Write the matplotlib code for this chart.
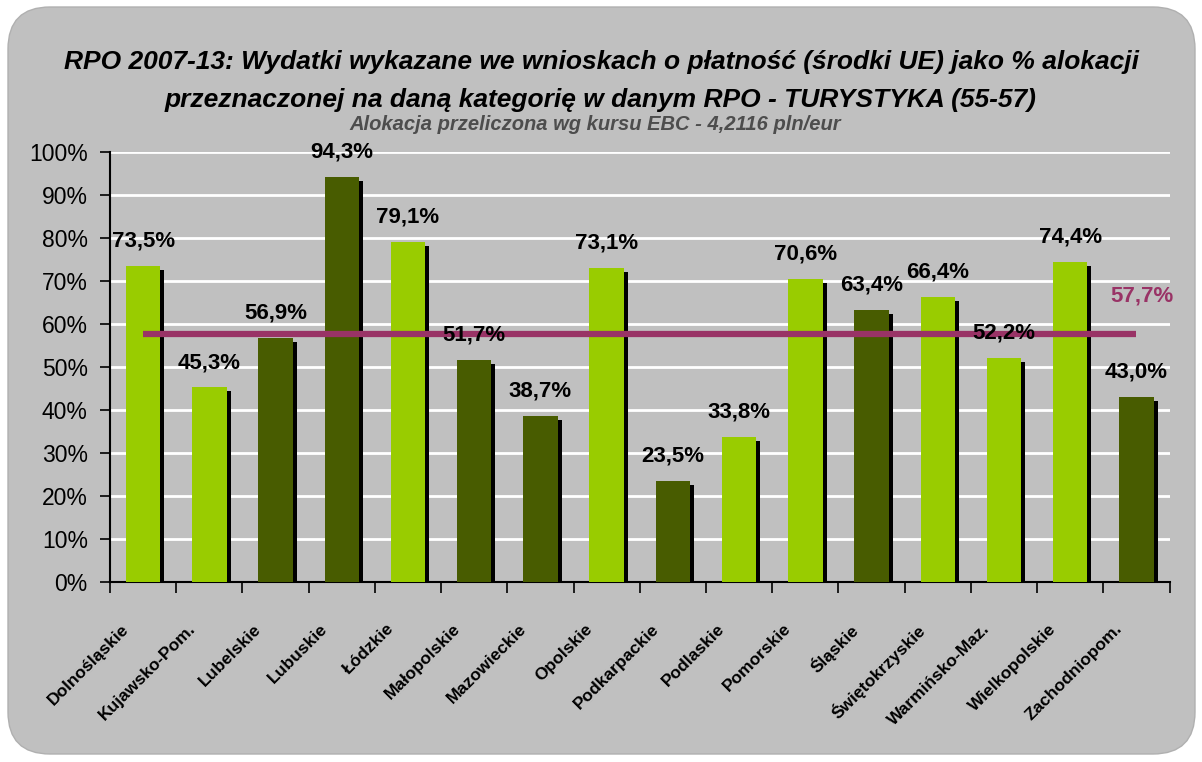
import numpy as np
import matplotlib
matplotlib.use('Agg')
import matplotlib.pyplot as plt
from matplotlib.patches import FancyBboxPatch
from matplotlib.transforms import ScaledTranslation

regions = ['Dolnośląskie', 'Kujawsko-Pom.', 'Lubelskie', 'Lubuskie', 'Łódzkie',
           'Małopolskie', 'Mazowieckie', 'Opolskie', 'Podkarpackie', 'Podlaskie',
           'Pomorskie', 'Śląskie', 'Świętokrzyskie', 'Warmińsko-Maz.',
           'Wielkopolskie', 'Zachodniopom.']
values = [73.5, 45.3, 56.9, 94.3, 79.1, 51.7, 38.7, 73.1, 23.5, 33.8,
          70.6, 63.4, 66.4, 52.2, 74.4, 43.0]
light = [True, True, False, False, True, False, False, True, False, True,
         True, False, True, True, True, False]
average = 57.7

LIGHT = '#99CC00'
DARK = '#485C00'
PURPLE = '#993366'
BG = '#C0C0C0'

plt.rcParams['font.family'] = ['Liberation Sans', 'DejaVu Sans']

fig = plt.figure(figsize=(12.02, 7.62), dpi=100)

# rounded grey panel behind everything
panel = FancyBboxPatch((8 / 1202, 8 / 762), 1187 / 1202, 747 / 762,
                       boxstyle='round,pad=0,rounding_size=0.035',
                       transform=fig.transFigure, facecolor=BG,
                       edgecolor='#B0B0B0', linewidth=1, zorder=-5,
                       mutation_aspect=1202 / 762)
fig.patches.append(panel)

ax = fig.add_axes([0.0915, 0.236, 0.8815, 0.564])
ax.set_facecolor('none')

x = np.arange(len(regions))
colors = [LIGHT if l else DARK for l in light]
width = 0.52

# drop shadow of the bars
shadow = ax.transData + ScaledTranslation(4 / 100, -4 / 100, fig.dpi_scale_trans)
ax.bar(x, values, width=width, color='black', transform=shadow, zorder=2)
ax.bar(x, values, width=width, color=colors, zorder=3)

for xi, v in zip(x, values):
    ax.text(xi, v + 5.8, f'{v:.1f}%'.replace('.', ','), ha='center', va='center',
            fontsize=16, fontweight='bold', color='black', zorder=5)

# average line
ax.plot([0, len(regions) - 1], [average, average], color=PURPLE, lw=4.5,
        solid_capstyle='butt', zorder=4)
ax.text(len(regions) - 0.44, average + 9, f'{average:.1f}%'.replace('.', ','),
        ha='right', va='center', fontsize=16, fontweight='bold', color=PURPLE,
        zorder=5, clip_on=False)

ax.set_xlim(-0.5, len(regions) - 0.5)
ax.set_ylim(0, 100)
ax.set_yticks(np.arange(0, 101, 10))
ax.set_yticklabels([f'{t}%' for t in range(0, 101, 10)], fontsize=16.5)
ax.yaxis.grid(True, color='white', lw=2)
ax.set_axisbelow(True)

ax.set_xticks(np.arange(-0.5, len(regions), 1))
ax.set_xticklabels([])
ax.set_xticks(x - 0.33, minor=True)
ax.set_xticklabels(regions, minor=True, rotation=45, ha='right', va='top',
                   rotation_mode='anchor', fontsize=12.5, fontweight='bold')
ax.tick_params(axis='x', which='minor', length=0, pad=28)
ax.tick_params(axis='x', which='major', length=8, width=1.2, direction='out')
ax.tick_params(axis='y', length=7, width=1.2, direction='out', pad=9)

for s in ['top', 'right']:
    ax.spines[s].set_visible(False)
for s in ['left', 'bottom']:
    ax.spines[s].set_linewidth(1.5)

fig.text(0.5, 0.919, 'RPO 2007-13: Wydatki wykazane we wnioskach o płatność (środki UE) jako % alokacji',
         ha='center', va='center', fontsize=19, fontweight='bold', style='italic')
fig.text(0.5, 0.869, 'przeznaczonej na daną kategorię w danym RPO - TURYSTYKA (55-57)',
         ha='center', va='center', fontsize=19, fontweight='bold', style='italic')
fig.text(0.495, 0.837, 'Alokacja przeliczona wg kursu EBC - 4,2116 pln/eur',
         ha='center', va='center', fontsize=14.5, fontweight='bold', style='italic',
         color='#4D4D4D')

fig.savefig('out.png', dpi=100)
